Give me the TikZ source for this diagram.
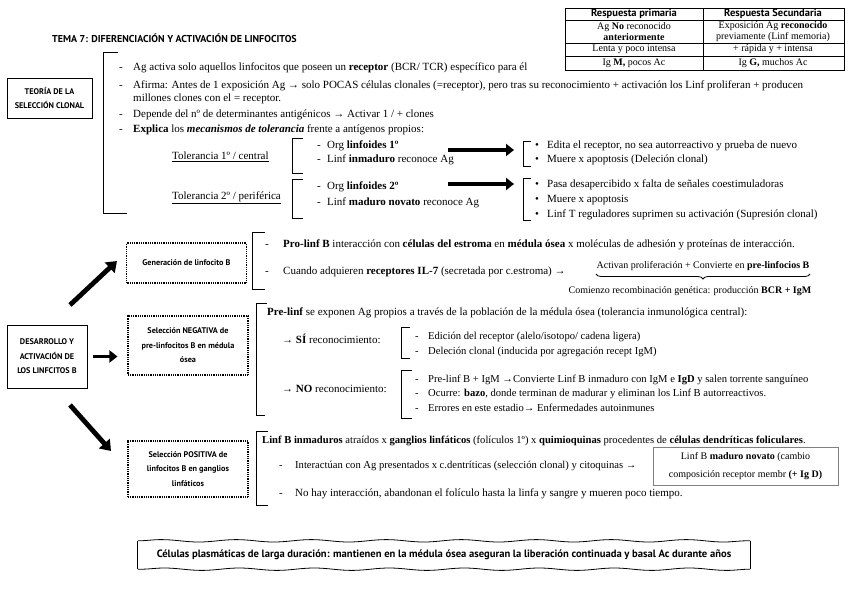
\documentclass[tikz,border=0pt]{standalone}
\usepackage{fontspec}
\setmainfont{Liberation Serif}
\newfontfamily\handfont{PT Sans}
\usetikzlibrary{arrows.meta,decorations.pathreplacing,decorations.pathmorphing}
\newcommand\itemdash[1][14pt]{\makebox[#1][l]{-}}
\newcommand\itembul{\makebox[12pt][l]{\textbullet}}
\tikzset{
  txt/.style={anchor=west, inner sep=0pt, font=\fontsize{11}{12}\selectfont, text height=7.5pt, text depth=2.3pt},
  smalltxt/.style={txt, font=\fontsize{10}{12}\selectfont},
  midtxt/.style={txt, font=\fontsize{10.6}{12}\selectfont},
  cell/.style={inner sep=0pt, align=center, font=\fontsize{10}{11}\selectfont},
  head/.style={inner sep=0pt, align=center, font=\handfont\bfseries\fontsize{10.5}{11}\selectfont},
  titletxt/.style={anchor=west, inner sep=0pt, font=\handfont\bfseries\fontsize{10}{11}\selectfont},
  mainbox/.style={draw, line width=0.9pt, align=center, inner sep=0pt, font=\handfont\bfseries\fontsize{8.2}{14.5}\selectfont},
  dotbox/.style={draw, dash pattern=on 0.9pt off 0.9pt, line width=1.1pt, align=center, inner sep=0pt, minimum width=120pt, font=\handfont\bfseries\fontsize{8.2}{14.5}\selectfont},
  notebox/.style={draw=gray, line width=0.8pt, align=center, inner sep=0pt, font=\fontsize{10}{18}\selectfont},
  brk/.style={line width=0.9pt},
  bigarrow/.style={line width=3.8pt, -{Triangle[length=8pt,width=12pt]}},
  diagarrow/.style={line width=4.8pt, -{Triangle[length=10pt,width=14pt]}},
  wavy/.style={line width=0.8pt, decorate, decoration={snake, amplitude=1.2pt, segment length=75pt}},
}

\begin{document}
\begin{tikzpicture}[x=1pt, y=-1pt]
  \useasboundingbox (0,0) rectangle (848,599);

  % title and table
  \node[titletxt] (title) at (52,38) {TEMA 7: DIFERENCIACIÓN Y ACTIVACIÓN DE LINFOCITOS};
  \draw[line width=0.9pt] (565,8) rectangle (844,70);
  \draw[line width=0.6pt] (565,20) -- (844,20) (565,43) -- (844,43) (565,56) -- (844,56) (703,8) -- (703,70);
  \node[head] (h1) at (634,14) {Respuesta primaria};
  \node[head] (h2) at (773,14) {Respuesta Secundaria};
  \node[cell] (c11) at (634,31.5) {Ag \textbf{No} reconocido\\\textbf{anteriormente}};
  \node[cell] (c12) at (773,31.5) {Exposición Ag \textbf{reconocido}\\previamente (Linf memoria)};
  \node[cell] (c21) at (634,49.5) {Lenta y poco intensa};
  \node[cell] (c22) at (773,49.5) {+ rápida y + intensa};
  \node[cell] (c31) at (634,63) {Ig \textbf{M,} pocos Ac};
  \node[cell] (c32) at (773,63) {Ig \textbf{G,} muchos Ac};

  % teoria de la seleccion clonal
  \node[mainbox, minimum width=85pt, minimum height=40pt] (teoria) at (49.5,98) {TEORÍA DE LA\\SELECCIÓN CLONAL};
  \draw[brk] (118,52) -| (103,213) -- (127,213);
  \node[txt] (b1) at (119,68) {\itemdash Ag activa solo aquellos linfocitos que poseen un \textbf{receptor} (BCR/ TCR) específico para él};
  \node[txt] (b2) at (119,86) {\itemdash Afirma: Antes de 1 exposición Ag → solo POCAS células clonales (=receptor), pero tras su reconocimiento + activación los Linf proliferan + producen};
  \node[txt] (b2b) at (133,99) {millones clones con el = receptor.};
  \node[txt] (b3) at (119,115) {\itemdash Depende del nº de determinantes antigénicos → Activar 1 / + clones};
  \node[txt] (b4) at (119,130) {\itemdash \textbf{Explica} los \textbf{\textit{mecanismos de tolerancia}} frente a antígenos propios:};

  \node[txt] (tol1) at (172,157) {\underline{Tolerancia 1º / central}};
  \node[txt] (tol2) at (172,197) {\underline{Tolerancia 2º / periférica}};
  \draw[brk] (303,138) -| (292,173) -- (303,173);
  \draw[brk] (303,179) -| (292,218) -- (303,218);
  \node[txt] (o1) at (317,146) {\itemdash[10pt]Org \textbf{linfoides 1º}};
  \node[txt] (o2) at (317,160) {\itemdash[10pt]Linf \textbf{inmaduro} reconoce Ag};
  \node[txt] (o3) at (317,187) {\itemdash[10pt]Org \textbf{linfoides 2º}};
  \node[txt] (o4) at (317,203) {\itemdash[10pt]Linf \textbf{maduro novato} reconoce Ag};

  \coordinate (ta1) at (448,150);
  \coordinate (tb1) at (514,150);
  \coordinate (ta2) at (448,184);
  \coordinate (tb2) at (514,184);
  \draw[bigarrow] (ta1) -- (tb1);
  \draw[bigarrow] (ta2) -- (tb2);

  \draw[brk] (531,141) -| (523,166) -- (531,166);
  \draw[brk] (531,178) -| (523,220) -- (531,220);
  \node[txt] (r1) at (535,146) {\itembul Edita el receptor, no sea autorreactivo y prueba de nuevo};
  \node[txt] (r2) at (535,160) {\itembul Muere x apoptosis (Deleción clonal)};
  \node[txt] (r3) at (535,185) {\itembul Pasa desapercibido x falta de señales coestimuladoras};
  \node[txt] (r4) at (535,200) {\itembul Muere x apoptosis};
  \node[txt] (r5) at (535,215) {\itembul Linf T reguladores suprimen su activación (Supresión clonal)};

  % desarrollo y activacion
  \node[mainbox, minimum width=80pt, minimum height=63pt] (desa) at (47,356.5) {DESARROLLO Y\\ACTIVACIÓN DE\\LOS LINFCITOS B};
  \node[dotbox, minimum height=40pt] (gen) at (186.5,263) {Generación de linfocito B};
  \node[dotbox, minimum height=59pt] (neg) at (188,345.5) {Selección NEGATIVA de\\pre-linfocitos B en médula\\ósea};
  \node[dotbox, minimum height=56pt] (pos) at (188,469) {Selección POSITIVA de\\linfocitos B en ganglios\\linfáticos};
  \coordinate (up1) at (70,305);
  \coordinate (up2) at (117,261);
  \coordinate (dn1) at (70,405);
  \coordinate (dn2) at (111,451);
  \draw[diagarrow] (up1) -- (up2);
  \draw[diagarrow] (dn1) -- (dn2);
  \draw[bigarrow] ([xshift=6pt]desa.east) -- ([xshift=-10pt]desa.east -| neg.west);

  % generacion
  \draw[brk] (265,232) -| (252,289) -- (265,289);
  \node[txt] (g1) at (265,245) {\itemdash[18pt]\textbf{Pro-linf B} interacción con \textbf{células del estroma} en \textbf{médula ósea} x moléculas de adhesión y proteínas de interacción.};
  \node[txt] (g2) at (265,272) {\itemdash[18pt]Cuando adquieren \textbf{receptores IL-7} (secretada por c.estroma) →};
  \node[smalltxt, anchor=center] (ga) at (703,266) {Activan proliferación + Convierte en \textbf{pre-linfocios B}};
  \draw[line width=0.8pt, decorate, decoration={brace, mirror, amplitude=5pt}] (596,274) -- (810,274);
  \node[smalltxt, anchor=center] (gb) at (690,291) {Comienzo recombinación genética: producción \textbf{BCR + IgM}};

  % seleccion negativa
  \draw[brk] (267,303) -| (256,415) -- (265,415);
  \node[txt] (n0) at (267,313) {\textbf{Pre-linf} se exponen Ag propios a través de la población de la médula ósea (tolerancia inmunológica central):};
  \node[txt] (nsi) at (282,341) {\textbf{→}\ \textbf{SÍ} reconocimiento:};
  \node[txt] (nno) at (282,390) {\textbf{→}\ \textbf{NO} reconocimiento:};
  \draw[brk] (410,327) -| (401,358) -- (410,358);
  \draw[brk] (412,370) -| (401,418) -- (412,418);
  \node[midtxt] (n1) at (415,337) {\itemdash[13pt]Edición del receptor (alelo/isotopo/ cadena ligera)};
  \node[midtxt] (n2) at (415,352) {\itemdash[13pt]Deleción clonal (inducida por agregación recept IgM)};
  \node[midtxt] (n3) at (415,380) {\itemdash[13pt]Pre-linf B + IgM →Convierte Linf B inmaduro con IgM e \textbf{IgD} y salen torrente sanguíneo};
  \node[midtxt] (n4) at (415,394) {\itemdash[13pt]Ocurre: \textbf{bazo}, donde terminan de madurar y eliminan los Linf B autorreactivos.};
  \node[midtxt] (n5) at (415,409) {\itemdash[13pt]Errores en este estadio→ Enfermedades autoinmunes};

  % seleccion positiva
  \draw[brk] (268,431) -| (256,505) -- (268,505);
  \node[midtxt] (p0) at (262,441) {\textbf{Linf B inmaduros} atraídos x \textbf{ganglios linfáticos} (folículos 1º) x \textbf{quimioquinas} procedentes de \textbf{células dendríticas foliculares}.};
  \node[midtxt] (p1) at (279,466) {\itemdash[16pt]Interactúan con Ag presentados x c.dentríticas (selección clonal) y citoquinas →};
  \node[notebox, minimum width=185pt, minimum height=38pt] (novato) at (745.5,466) {Linf B \textbf{maduro novato} (cambio\\composición receptor membr \textbf{(+ Ig D)}};
  \node[txt] (p2) at (279,494) {\itemdash[16pt]No hay interacción, abandonan el folículo hasta la linfa y sangre y mueren poco tiempo.};

  % celulas plasmaticas
  \node[inner sep=0pt, minimum width=612pt, minimum height=28pt, font=\handfont\bfseries\fontsize{10.6}{12}\selectfont] (plasma) at (444,555) {Células plasmáticas de larga duración: mantienen en la médula ósea aseguran la liberación continuada y basal Ac durante años};
  \draw[wavy] (plasma.north west) -- (plasma.north east);
  \draw[wavy] (plasma.south east) -- (plasma.south west);
  \draw[line width=0.8pt] (plasma.north east) -- (plasma.south east) (plasma.south west) -- (plasma.north west);
\end{tikzpicture}
\end{document}
